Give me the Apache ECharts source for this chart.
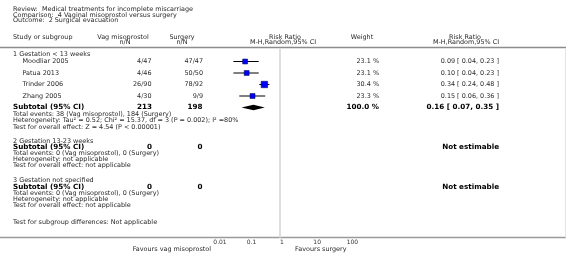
<!DOCTYPE html>
<html><head><meta charset="utf-8">
<script src="https://cdn.jsdelivr.net/npm/echarts@6/dist/echarts.min.js"></script>
<style>html,body{margin:0;padding:0;background:#fff}#c{width:566px;height:261px}</style>
</head><body><div id="c"></div>
<script>
// ---- data ----
var studies = ['Moodliar 2005', 'Patua 2013', 'Trinder 2006', 'Zhang 2005'];
var vagEvents = [4, 4, 26, 4];
var vagTotal = [47, 46, 90, 30];
var surgEvents = [47, 50, 78, 9];
var surgTotal = [47, 50, 92, 9];
var weights = [23.1, 23.1, 30.4, 23.3];
var rr = [0.09, 0.10, 0.34, 0.15];
var rrLow = [0.04, 0.04, 0.24, 0.06];
var rrHigh = [0.23, 0.23, 0.48, 0.36];
var subRR = [0.16, 0.07, 0.35];
var subTotals = [213, 198];
var subEvents = [38, 184];
var tickValues = [0.01, 0.1, 1, 10, 100];

// ---- layout ----
var FN = '6.45px "DejaVu Sans"', FB = 'bold 7.2px "DejaVu Sans"';
var CN = '#2a2a2a', CB = '#000';
var X_NAME = 13, X_STUDY = 22.5, X_VAG = 151.5, X_SURG = 203, X_W = 379, X_RR = 499;
var studyY = [61.5, 73, 84.5, 96];
var subY = 107.5;
var AXIS_Y = 237.5, HEAD_LINE_Y = 47.5;

var g = [];
function txt(s, x, y, font, fill, align) {
  g.push({type: 'text', x: x, y: y, silent: true, style: {text: s, font: font || FN, fill: fill || CN,
    align: align || 'left', textAlign: align || 'left', verticalAlign: 'middle', textVerticalAlign: 'middle'}});
}
function line(x1, y1, x2, y2, color, w) {
  g.push({type: 'line', silent: true, shape: {x1: x1, y1: y1, x2: x2, y2: y2}, style: {stroke: color, lineWidth: w}});
}
function f2(v) { return v.toFixed(2); }
function ci(a, b, c) { return f2(a) + ' [ ' + f2(b) + ', ' + f2(c) + ' ]'; }

txt('Review:  Medical treatments for incomplete miscarriage', X_NAME, 9.5);
txt('Comparison:  4 Vaginal misoprostol versus surgery', X_NAME, 15);
txt('Outcome:  2 Surgical evacuation', X_NAME, 20.5);
txt('Study or subgroup', X_NAME, 37.5);
txt('Vag misoprostol', 123, 37.5, FN, CN, 'center');
txt('n/N', 125, 42.5, FN, CN, 'center');
txt('Surgery', 182, 37.5, FN, CN, 'center');
txt('n/N', 182, 42.5, FN, CN, 'center');
txt('Risk Ratio', 285, 37.5, FN, CN, 'center');
txt('M-H,Random,95% CI', 283, 42.5, FN, CN, 'center');
txt('Weight', 362, 37.5, FN, CN, 'center');
txt('Risk Ratio', 465, 37.5, FN, CN, 'center');
txt('M-H,Random,95% CI', 466, 42.5, FN, CN, 'center');
line(0, HEAD_LINE_Y, 566, HEAD_LINE_Y, '#8c8c8c', 1.5);
line(0, AXIS_Y, 566, AXIS_Y, '#9a9a9a', 1.5);
line(565.5, HEAD_LINE_Y + 1, 565.5, AXIS_Y, '#e4e4e4', 1);

txt('1 Gestation < 13 weeks', X_NAME, 54.5);
for (var i = 0; i < studies.length; i++) {
  var y = studyY[i];
  txt(studies[i], X_STUDY, y);
  txt(vagEvents[i] + '/' + vagTotal[i], X_VAG, y, FN, CN, 'right');
  txt(surgEvents[i] + '/' + surgTotal[i], X_SURG, y, FN, CN, 'right');
  txt(weights[i].toFixed(1) + ' %', X_W, y, FN, CN, 'right');
  txt(ci(rr[i], rrLow[i], rrHigh[i]), X_RR, y, FN, CN, 'right');
}
txt('Subtotal (95% CI)', X_NAME, subY, FB, CB);
txt(String(subTotals[0]), X_VAG + 0.5, subY, FB, CB, 'right');
txt(String(subTotals[1]), X_SURG - 0.5, subY, FB, CB, 'right');
txt('100.0 %', X_W, subY, FB, CB, 'right');
txt(ci(subRR[0], subRR[1], subRR[2]), X_RR, subY, FB, CB, 'right');
txt('Total events: ' + subEvents[0] + ' (Vag misoprostol), ' + subEvents[1] + ' (Surgery)', X_NAME, 114.5);
txt('Heterogeneity: Tau\u00b2 = 0.52; Chi\u00b2 = 15.37, df = 3 (P = 0.002); I\u00b2 =80%', X_NAME, 120.8);
txt('Test for overall effect: Z = 4.54 (P < 0.00001)', X_NAME, 127);

function emptyGroup(title, y0) {
  txt(title, X_NAME, y0);
  txt('Subtotal (95% CI)', X_NAME, y0 + 6.2, FB, CB);
  txt('0', X_VAG + 0.5, y0 + 6.2, FB, CB, 'right');
  txt('0', X_SURG - 0.5, y0 + 6.2, FB, CB, 'right');
  txt('Not estimable', X_RR, y0 + 6.2, FB, CB, 'right');
  txt('Total events: 0 (Vag misoprostol), 0 (Surgery)', X_NAME, y0 + 12.4);
  txt('Heterogeneity: not applicable', X_NAME, y0 + 18.4);
  txt('Test for overall effect: not applicable', X_NAME, y0 + 24.4);
}
emptyGroup('2 Gestation 13-23 weeks', 141.3);
emptyGroup('3 Gestation not specified', 180.6);
txt('Test for subgroup differences: Not applicable', X_NAME, 222);
txt('Favours vag misoprostol', 211, 249, FN, CN, 'right');
txt('Favours surgery', 346.5, 249, FN, CN, 'right');

var studyData = studies.map(function (s, i) { return [rr[i], studyY[i], rrLow[i], rrHigh[i], weights[i]]; });

var chart = echarts.init(document.getElementById('c'), null, {renderer: 'canvas'});
chart.setOption({
  animation: false,
  backgroundColor: '#fff',
  grid: {left: 213.33, width: 133.33, top: 0, height: AXIS_Y, containLabel: false},
  xAxis: {
    type: 'log', logBase: 10, min: tickValues[0], max: tickValues[tickValues.length - 1],
    axisLine: {show: false},
    axisTick: {show: true, inside: true, length: 3, lineStyle: {color: '#333', width: 1}},
    splitLine: {show: false},
    axisLabel: {show: true, fontSize: 6, fontFamily: 'DejaVu Sans', color: '#333', align: 'left', margin: 2.2,
      formatter: function (v) { return String(+v.toPrecision(3)); }}
  },
  yAxis: {type: 'value', min: 0, max: AXIS_Y, inverse: true, show: false},
  series: [
    {
      type: 'custom', silent: true,
      data: [[1, HEAD_LINE_Y + 1, AXIS_Y]],
      renderItem: function (p, api) {
        var a = api.coord([api.value(0), api.value(1)]), b = api.coord([api.value(0), api.value(2)]);
        return {type: 'line', shape: {x1: a[0], y1: a[1], x2: b[0], y2: b[1]}, style: {stroke: '#dedede', lineWidth: 2}};
      }
    },
    {
      type: 'custom', silent: true, data: studyData,
      renderItem: function (p, api) {
        var c = api.coord([api.value(0), api.value(1)]);
        var l = api.coord([api.value(2), api.value(1)]);
        var h = api.coord([api.value(3), api.value(1)]);
        var s = api.value(4) * 0.21;
        return {type: 'group', children: [
          {type: 'line', shape: {x1: l[0], y1: c[1], x2: h[0], y2: c[1]}, style: {stroke: '#000', lineWidth: 1}},
          {type: 'rect', shape: {x: c[0] - s / 2, y: c[1] - s / 2, width: s, height: s}, style: {fill: '#0000ff', stroke: '#00005a', lineWidth: 0.6}}
        ]};
      }
    },
    {
      type: 'custom', silent: true, data: [[subRR[0], subY, subRR[1], subRR[2]]],
      renderItem: function (p, api) {
        var c = api.coord([api.value(0), api.value(1)]);
        var l = api.coord([api.value(2), api.value(1)]);
        var h = api.coord([api.value(3), api.value(1)]);
        return {type: 'polygon', shape: {points: [[l[0], c[1]], [c[0], c[1] - 2.8], [h[0], c[1]], [c[0], c[1] + 2.8]]}, style: {fill: '#000'}};
      }
    }
  ],
  graphic: {elements: g}
});
</script></body></html>
